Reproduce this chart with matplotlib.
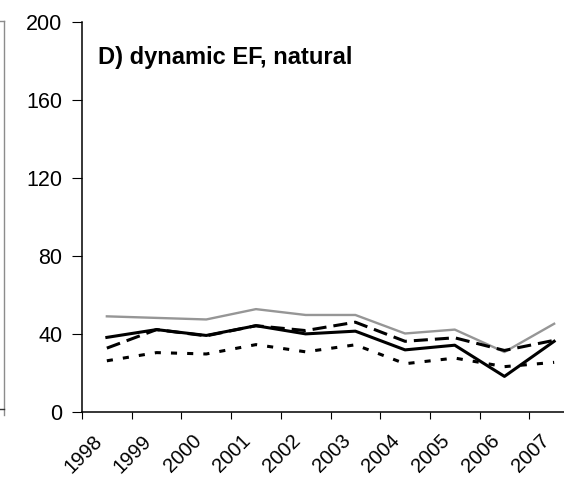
import numpy as np
import matplotlib
matplotlib.use("Agg")
import matplotlib.pyplot as plt
from matplotlib.lines import Line2D
from matplotlib.transforms import ScaledTranslation

plt.rcParams['font.family'] = ['Liberation Sans', 'DejaVu Sans']

# data
years = ['1998', '1999', '2000', '2001', '2002', '2003', '2004', '2005', '2006', '2007']
grey_line = [48.8, 48.0, 47.2, 52.5, 49.5, 49.5, 40.0, 42.0, 30.5, 45.0]
solid_line = [38.0, 42.0, 39.0, 44.0, 39.8, 41.2, 31.6, 34.0, 18.0, 36.0]
dashed_line = [32.5, 42.0, 38.8, 44.0, 41.5, 45.8, 36.0, 37.8, 31.3, 36.5]
dotted_line = [26.0, 30.2, 29.5, 34.3, 30.6, 34.2, 24.5, 27.4, 23.0, 25.2]
yticks = [0, 40, 80, 120, 160, 200]

fig = plt.figure(figsize=(5.64, 4.8), dpi=100)
# axes runs a bit past the right edge, as in the cropped original
ax = fig.add_axes([82 / 564, 1 - 411.5 / 480, (579 - 82) / 564, 390 / 480])

x = np.arange(len(years))
ax.plot(x, grey_line, color='#969696', lw=1.7)
ax.plot(x, dashed_line, color='black', lw=2.2, dashes=(4.6, 2.3))
ax.plot(x, dotted_line, color='black', lw=2.2, dashes=(2.0, 3.3))
ax.plot(x, solid_line, color='black', lw=2.2)

ax.set_xlim(-0.5, 9.5)
ax.set_ylim(0, 200)
ax.set_yticks(yticks)
ax.tick_params(axis='y', direction='out', length=7.2, width=0.8, pad=7, labelsize=15.5)

# labels at the centres, ticks at the boundaries
ax.set_xticks(x)
ax.set_xticklabels(years, rotation=45, ha='right', va='center', rotation_mode='anchor')
ax.set_xticks(np.arange(-0.5, 10, 1), minor=True)
ax.tick_params(axis='x', which='major', length=0, pad=19, labelsize=14.5)
ax.tick_params(axis='x', which='minor', direction='out', length=5, width=0.8)
shift = ScaledTranslation(-8 / 100, 0, fig.dpi_scale_trans)
for lab in ax.get_xticklabels():
    lab.set_transform(lab.get_transform() + shift)

for s in ['top', 'right']:
    ax.spines[s].set_visible(False)
for s in ['left', 'bottom']:
    ax.spines[s].set_linewidth(1.1)

ax.text(0.032, 178, 'D) dynamic EF, natural', transform=ax.get_yaxis_transform(),
        fontsize=17, fontweight='bold', ha='left', va='baseline')

# sliver of the neighbouring panel at the left edge
px = lambda v: v / 564
py = lambda v: 1 - v / 480
fig.add_artist(Line2D([px(3.5), px(3.5)], [py(21), py(415)], color='#8c8c8c', lw=1.0))
fig.add_artist(Line2D([px(0), px(3.5)], [py(21), py(21)], color='#8c8c8c', lw=1.0))
fig.add_artist(Line2D([px(0), px(4)], [py(409), py(409)], color='#333333', lw=1.0))

fig.savefig('out.png', dpi=100)
